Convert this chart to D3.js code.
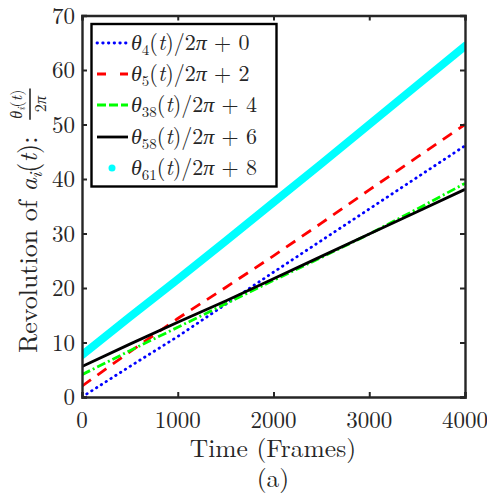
<!DOCTYPE html>
<html>
<head>
<meta charset="utf-8">
<script src="https://cdn.jsdelivr.net/npm/d3@7"></script>
<style>
  html, body { margin: 0; padding: 0; background: #fff; }
  svg { display: block; }
</style>
</head>
<body>
<div id="chart"></div>
<script>
// Sampled frames and phase revolutions (θ/2π plus offset) per oscillator
const frames = [0, 500, 1000, 1500, 2000, 2500, 3000, 3500, 4000];
const theta4  = [0.0, 5.6, 11.1, 17.0, 22.9, 28.7, 34.5, 40.3, 46.1];
const theta5  = [2.0, 8.3, 14.4, 20.1, 25.9, 31.9, 38.0, 44.0, 50.0];
const theta38 = [4.1, 8.5, 12.8, 17.1, 21.4, 25.6, 29.9, 34.5, 39.2];
const theta58 = [5.6, 9.7, 13.7, 17.6, 21.7, 25.8, 29.9, 34.0, 38.1];
const theta61 = [7.7, 14.7, 21.6, 28.6, 35.7, 42.8, 50.0, 57.2, 64.4];

const xTicks = [0, 1000, 2000, 3000, 4000];
const yTicks = [0, 10, 20, 30, 40, 50, 60, 70];

const seriesIds = ["4", "5", "38", "58", "61"];
const seriesOffsets = ["0", "2", "4", "6", "8"];

const W = 487, H = 496;
const m = { left: 82, right: 22, top: 15.5, bottom: 99 };
const FONT = "'Latin Modern Roman', 'Liberation Serif', serif";

const svg = d3.select("#chart").append("svg")
  .attr("width", W).attr("height", H)
  .attr("font-family", FONT);

const x = d3.scaleLinear().domain([0, 4000]).range([m.left, W - m.right]);
const y = d3.scaleLinear().domain([0, 70]).range([H - m.bottom, m.top]);

const axisColor = "#262626";
const textColor = "#262626";

const series = [
  { values: theta4,  color: "#0000ff", width: 2.8, dash: "0.5,5.2", cap: "round", kind: "line" },
  { values: theta5,  color: "#ff0000", width: 2.8, dash: "11,8",    cap: "butt",  kind: "line" },
  { values: theta38, color: "#00ff00", width: 2.8, dash: "9,3,2,3", cap: "butt",  kind: "line" },
  { values: theta58, color: "#000000", width: 2.8, dash: null,      cap: "butt",  kind: "line" },
  { values: theta61, color: "#00ffff", width: 8,   dash: null,      cap: "round", kind: "dots" }
];

// clip region for the plotting area
svg.append("defs").append("clipPath").attr("id", "plotclip")
  .append("rect")
  .attr("x", x(0)).attr("y", y(70))
  .attr("width", x(4000) - x(0)).attr("height", y(0) - y(70));

const line = d3.line().x((d, i) => x(frames[i])).y(d => y(d));

const plot = svg.append("g").attr("clip-path", "url(#plotclip)");

series.forEach(s => {
  plot.append("path")
    .datum(s.values)
    .attr("d", line)
    .attr("fill", "none")
    .attr("stroke", s.color)
    .attr("stroke-width", s.width)
    .attr("stroke-linecap", s.cap)
    .attr("stroke-linejoin", "round")
    .attr("stroke-dasharray", s.dash);
});

// axes box with inward ticks on all four sides
const tickLen = 5;
const gAxes = svg.append("g");

const axB = d3.axisBottom(x).tickValues(xTicks).tickSize(-tickLen).tickFormat("");
const axT = d3.axisTop(x).tickValues(xTicks).tickSize(-tickLen).tickFormat("");
const axL = d3.axisLeft(y).tickValues(yTicks).tickSize(-tickLen).tickFormat("");
const axR = d3.axisRight(y).tickValues(yTicks).tickSize(-tickLen).tickFormat("");

gAxes.append("g").attr("transform", `translate(0,${y(0)})`).call(axB);
gAxes.append("g").attr("transform", `translate(0,${y(70)})`).call(axT);
gAxes.append("g").attr("transform", `translate(${x(0)},0)`).call(axL);
gAxes.append("g").attr("transform", `translate(${x(4000)},0)`).call(axR);

gAxes.selectAll(".domain").attr("stroke", axisColor).attr("stroke-width", 2.4);
gAxes.selectAll(".tick line").attr("stroke", axisColor).attr("stroke-width", 2);

// tick labels
const tickFont = 23;
svg.append("g").selectAll("text").data(xTicks).join("text")
  .attr("x", d => x(d)).attr("y", 428)
  .attr("text-anchor", "middle")
  .attr("font-size", tickFont)
  .attr("fill", textColor)
  .text(d => d);

svg.append("g").selectAll("text").data(yTicks).join("text")
  .attr("x", 75).attr("y", d => y(d) + 8)
  .attr("text-anchor", "end")
  .attr("font-size", tickFont)
  .attr("fill", textColor)
  .text(d => d);

// x axis label and panel caption
svg.append("text")
  .attr("x", 273).attr("y", 457)
  .attr("text-anchor", "middle")
  .attr("font-size", 25.5)
  .attr("fill", textColor)
  .text("Time (Frames)");

svg.append("text")
  .attr("x", 273).attr("y", 487)
  .attr("text-anchor", "middle")
  .attr("font-size", 25.5)
  .attr("fill", textColor)
  .text("(a)");

// y axis label: "Revolution of a_i(t):" followed by a stacked fraction
const yl = svg.append("g").attr("transform", "translate(37,353) rotate(-90)");
const ylText = yl.append("text").attr("x", 0).attr("y", 0).attr("font-size", 26)
  .attr("fill", textColor);
ylText.append("tspan").text("Revolution of ");
ylText.append("tspan").attr("font-style", "italic").text("a");
ylText.append("tspan").attr("font-style", "italic").attr("font-size", 18).attr("dy", 5).text("i");
ylText.append("tspan").attr("dy", -5).text("(");
ylText.append("tspan").attr("font-style", "italic").text("t");
ylText.append("tspan").text("):");
const L = ylText.node().getComputedTextLength();

const fx = L + 18;
const num = yl.append("text").attr("y", -15).attr("font-size", 16)
  .attr("text-anchor", "middle").attr("fill", textColor);
num.append("tspan").attr("font-style", "italic").text("θ");
num.append("tspan").attr("font-style", "italic").attr("font-size", 11).attr("dy", 3).text("i");
num.append("tspan").attr("dy", -3).text("(");
num.append("tspan").attr("font-style", "italic").text("t");
num.append("tspan").text(")");
const numW = num.node().getComputedTextLength();
num.attr("x", fx + numW / 2);

const den = yl.append("text").attr("y", 9).attr("font-size", 16)
  .attr("text-anchor", "middle").attr("fill", textColor);
den.append("tspan").text("2");
den.append("tspan").attr("font-style", "italic").text("π");
den.attr("x", fx + numW / 2);

yl.append("line")
  .attr("x1", fx - 1).attr("x2", fx + numW + 1)
  .attr("y1", -7).attr("y2", -7)
  .attr("stroke", textColor).attr("stroke-width", 1.6);

// legend
const lg = svg.append("g");
lg.append("rect")
  .attr("x", 91.5).attr("y", 24)
  .attr("width", 185).attr("height", 162.5)
  .attr("fill", "#fff")
  .attr("stroke", "#000").attr("stroke-width", 2.4);

const legendDash = ["0.5,5.2", "9,14", "9,3,9,3", null, null];
const rowY = [43, 74, 105, 137, 168];
series.forEach((s, k) => {
  const cy = rowY[k];
  if (s.kind === "dots") {
    lg.append("circle").attr("cx", 112).attr("cy", cy).attr("r", 3.5).attr("fill", s.color);
  } else {
    lg.append("line")
      .attr("x1", 97).attr("x2", 128)
      .attr("y1", cy).attr("y2", cy)
      .attr("stroke", s.color)
      .attr("stroke-width", s.width)
      .attr("stroke-linecap", s.cap)
      .attr("stroke-dasharray", legendDash[k]);
  }
  const t = lg.append("text").attr("x", 131).attr("y", cy + 7)
    .attr("font-size", 22).attr("fill", textColor);
  t.append("tspan").attr("font-style", "italic").text("θ");
  t.append("tspan").attr("font-size", 15).attr("dy", 5).text(seriesIds[k]);
  t.append("tspan").attr("dy", -5).text("(");
  t.append("tspan").attr("font-style", "italic").text("t");
  t.append("tspan").text(")/2");
  t.append("tspan").attr("font-style", "italic").text("π");
  t.append("tspan").text(" + " + seriesOffsets[k]);
});
</script>
</body>
</html>
